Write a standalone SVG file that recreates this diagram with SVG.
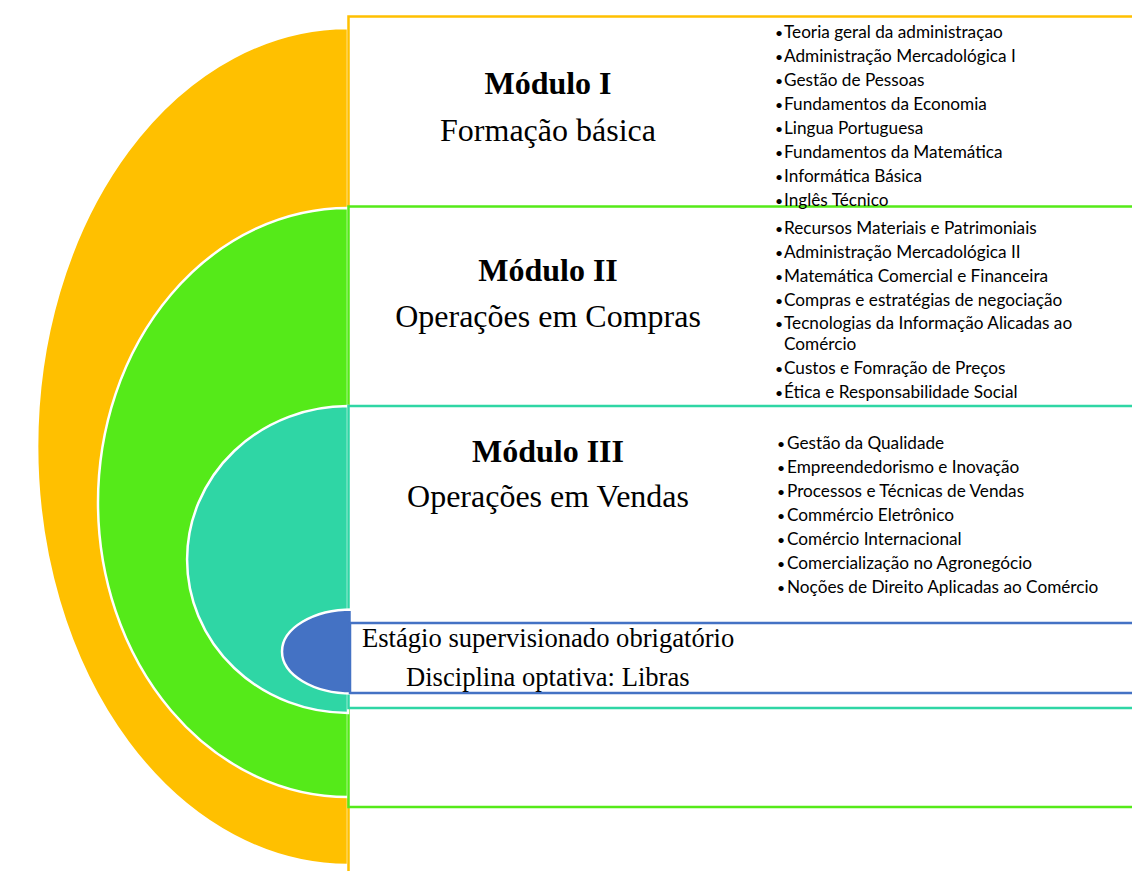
<svg xmlns="http://www.w3.org/2000/svg" width="1132" height="871" viewBox="0 0 1132 871">
  <style>
    .arc { stroke: #FFFFFF; stroke-width: 2.5; }
    .box { fill: #FFFFFF; stroke-width: 2.5; }
    .title { font-family: "Liberation Serif", "Times New Roman", serif; font-size: 32px; font-weight: bold; fill: #000; text-anchor: middle; }
    .sub { font-family: "Liberation Serif", "Times New Roman", serif; font-size: 32px; fill: #000; text-anchor: middle; }
    .note { font-family: "Liberation Serif", "Times New Roman", serif; font-size: 26.6px; fill: #000; }
    .item { font-family: Lato, "Open Sans", sans-serif; font-size: 17.2px; fill: #000; }
    .dot { font-size: 14px; }
  </style>
  <rect width="1132" height="871" fill="#FFFFFF"/>

  <!-- Módulo I: outer ring -->
  <g id="modulo-1">
    <path class="arc" fill="#FFC000" d="M 348 28 A 311 418.5 0 0 0 348 865 Z"/>
    <rect class="box" stroke="#FFC000" x="348.5" y="16.5" width="800" height="900"/>
  </g>

  <!-- Módulo II -->
  <g id="modulo-2">
    <path class="arc" fill="#55EA19" d="M 348 208 A 250 294.5 0 0 0 348 797 Z"/>
    <rect class="box" stroke="#55EA19" x="348.5" y="206.5" width="800" height="600.5"/>
  </g>

  <!-- Módulo III -->
  <g id="modulo-3">
    <path class="arc" fill="#2FD6A5" d="M 348 406 A 161 153.5 0 0 0 348 713 Z"/>
    <rect class="box" stroke="#2FD6A5" x="348.5" y="406" width="800" height="302"/>
  </g>

  <!-- Estágio / Libras -->
  <g id="estagio">
    <path class="arc" fill="#4472C4" d="M 352 609.5 A 70 42 0 0 0 352 693.5 Z"/>
    <rect class="box" stroke="#4472C4" x="350" y="623" width="800" height="70"/>
  </g>

  <g id="connectors"/>

  <!-- Module titles -->
  <g id="titulos">
    <text class="title" x="548" y="94">Módulo I</text>
    <text class="sub" x="548" y="141">Formação básica</text>
    <text class="title" x="548" y="281">Módulo II</text>
    <text class="sub" x="548" y="327">Operações em Compras</text>
    <text class="title" x="548" y="462">Módulo III</text>
    <text class="sub" x="548" y="507">Operações em Vendas</text>
    <text class="note" x="362" y="647">Estágio supervisionado obrigatório</text>
    <text class="note" x="406" y="686">Disciplina optativa: Libras</text>
  </g>

  <!-- Disciplinas do Módulo I -->
  <g id="lista-1" class="item">
    <text x="775" y="37.5"><tspan class="dot">•</tspan><tspan x="784">Teoria geral da administraçao</tspan></text>
    <text x="775" y="61.5"><tspan class="dot">•</tspan><tspan x="784">Administração Mercadológica I</tspan></text>
    <text x="775" y="85.5"><tspan class="dot">•</tspan><tspan x="784">Gestão de Pessoas</tspan></text>
    <text x="775" y="109.5"><tspan class="dot">•</tspan><tspan x="784">Fundamentos da Economia</tspan></text>
    <text x="775" y="133.5"><tspan class="dot">•</tspan><tspan x="784">Lingua Portuguesa</tspan></text>
    <text x="775" y="157.5"><tspan class="dot">•</tspan><tspan x="784">Fundamentos da Matemática</tspan></text>
    <text x="775" y="181.5"><tspan class="dot">•</tspan><tspan x="784">Informática Básica</tspan></text>
    <text x="775" y="205.5"><tspan class="dot">•</tspan><tspan x="784">Inglês Técnico</tspan></text>
  </g>

  <!-- Disciplinas do Módulo II -->
  <g id="lista-2" class="item">
    <text x="775" y="233.5"><tspan class="dot">•</tspan><tspan x="784">Recursos Materiais e Patrimoniais</tspan></text>
    <text x="775" y="257.5"><tspan class="dot">•</tspan><tspan x="784">Administração Mercadológica II</tspan></text>
    <text x="775" y="281.5"><tspan class="dot">•</tspan><tspan x="784">Matemática Comercial e Financeira</tspan></text>
    <text x="775" y="305.5"><tspan class="dot">•</tspan><tspan x="784">Compras e estratégias de negociação</tspan></text>
    <text x="775" y="328.5"><tspan class="dot">•</tspan><tspan x="784">Tecnologias da Informação Alicadas ao</tspan></text>
    <text x="784" y="349.5">Comércio</text>
    <text x="775" y="373.5"><tspan class="dot">•</tspan><tspan x="784">Custos e Fomração de Preços</tspan></text>
    <text x="775" y="397.5"><tspan class="dot">•</tspan><tspan x="784">Ética e Responsabilidade Social</tspan></text>
  </g>

  <!-- Disciplinas do Módulo III -->
  <g id="lista-3" class="item">
    <text x="777" y="448.5"><tspan class="dot">•</tspan><tspan x="787">Gestão da Qualidade</tspan></text>
    <text x="777" y="472.5"><tspan class="dot">•</tspan><tspan x="787">Empreendedorismo e Inovação</tspan></text>
    <text x="777" y="496.5"><tspan class="dot">•</tspan><tspan x="787">Processos e Técnicas de Vendas</tspan></text>
    <text x="777" y="520.5"><tspan class="dot">•</tspan><tspan x="787">Commércio Eletrônico</tspan></text>
    <text x="777" y="544.5"><tspan class="dot">•</tspan><tspan x="787">Comércio Internacional</tspan></text>
    <text x="777" y="568.5"><tspan class="dot">•</tspan><tspan x="787">Comercialização no Agronegócio</tspan></text>
    <text x="777" y="592.5"><tspan class="dot">•</tspan><tspan x="787">Noções de Direito Aplicadas ao Comércio</tspan></text>
  </g>
</svg>
